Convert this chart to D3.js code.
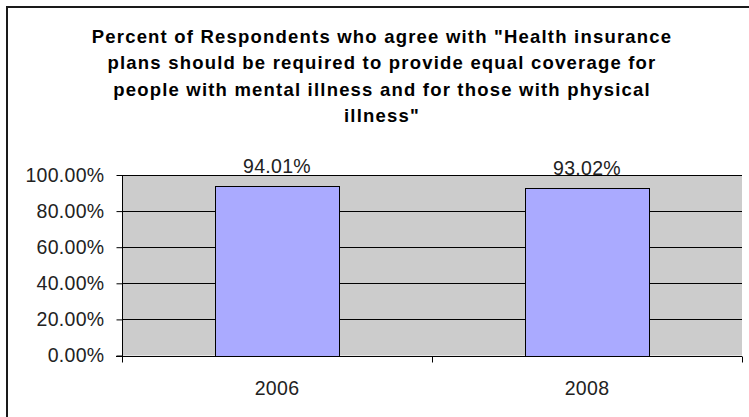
<!DOCTYPE html>
<html>
<head>
<meta charset="utf-8">
<script src="https://cdn.jsdelivr.net/npm/d3@7"></script>
<style>
  body { margin: 0; background: #fff; }
  svg text { font-family: Arial, "Liberation Sans", sans-serif; }
</style>
</head>
<body>
<div id="chart"></div>
<script>
// chart data
const years = ["2006", "2008"];
const agreePct = [0.9401, 0.9302];
const yTicks = [0, 0.2, 0.4, 0.6, 0.8, 1.0];
const titleLines = [
    "Percent of Respondents who agree with \"Health insurance",
    "plans should be required to provide equal coverage for",
    "people with mental illness and for those with physical",
    "illness\""
];

const width = 749, height = 417;
const plot = { left: 122, right: 742, top: 175, bottom: 355.5 };
const labelSize = 19.5;

const svg = d3.select("#chart")
    .append("svg")
    .attr("width", width)
    .attr("height", height);

// outer chart border (runs off the right/bottom edge like the original)
svg.append("rect")
    .attr("x", 7).attr("y", 7)
    .attr("width", 770).attr("height", 440)
    .attr("fill", "none")
    .attr("stroke", "#1a1a1a")
    .attr("stroke-width", 2);

// title
svg.append("text")
    .attr("text-anchor", "middle")
    .attr("font-size", 18.5)
    .attr("font-weight", "bold")
    .attr("letter-spacing", 1.2)
    .attr("fill", "#000")
    .selectAll("tspan")
    .data(titleLines)
    .enter()
    .append("tspan")
    .attr("x", 382)
    .attr("y", (d, i) => 43 + i * 26.3)
    .text(d => d);

const x = d3.scaleBand()
    .domain(years)
    .range([plot.left, plot.right])
    .paddingInner(0.6)
    .paddingOuter(0.3);

const y = d3.scaleLinear()
    .domain([0, 1])
    .range([plot.bottom, plot.top]);

// plot area background
svg.append("rect")
    .attr("x", plot.left).attr("y", plot.top)
    .attr("width", plot.right - plot.left)
    .attr("height", plot.bottom - plot.top)
    .attr("fill", "#cccccc");

// gridlines
svg.selectAll("line.grid")
    .data(yTicks)
    .enter()
    .append("line")
    .attr("class", "grid")
    .attr("x1", plot.left).attr("x2", plot.right)
    .attr("y1", d => Math.round(y(d)) + 0.5)
    .attr("y2", d => Math.round(y(d)) + 0.5)
    .attr("stroke", "#000")
    .attr("stroke-width", 1);

// bars
svg.selectAll("rect.bar")
    .data(agreePct)
    .enter()
    .append("rect")
    .attr("class", "bar")
    .attr("x", (d, i) => Math.round(x(years[i])) + 0.5)
    .attr("y", d => Math.round(y(d)) + 0.5)
    .attr("width", x.bandwidth())
    .attr("height", d => Math.round(y(0)) - Math.round(y(d)))
    .attr("fill", "#aaaaff")
    .attr("stroke", "#000")
    .attr("stroke-width", 1);

// value labels
svg.selectAll("text.val")
    .data(agreePct)
    .enter()
    .append("text")
    .attr("class", "val")
    .attr("x", (d, i) => x(years[i]) + x.bandwidth() / 2)
    .attr("y", d => y(d) - 13)
    .attr("text-anchor", "middle")
    .attr("font-size", labelSize)
    .attr("letter-spacing", 0.3)
    .attr("fill", "#222")
    .text(d => d3.format(".2%")(d));

// y axis
const yAxis = svg.append("g")
    .attr("transform", `translate(${plot.left + 0.5},0)`)
    .call(d3.axisLeft(y)
        .tickValues(yTicks)
        .tickSize(6)
        .tickPadding(12)
        .tickFormat(d3.format(".2%")));
yAxis.select(".domain").attr("stroke", "#000").attr("d", `M-0,${plot.top}V${plot.bottom + 6}`);
yAxis.selectAll(".tick line").attr("stroke", "#000");
yAxis.selectAll(".tick text")
    .attr("font-size", labelSize)
    .attr("letter-spacing", 0.3)
    .attr("fill", "#222")
    .attr("font-family", "Arial, 'Liberation Sans', sans-serif");

// x axis (ticks at category boundaries)
const xAxis = svg.append("g")
    .attr("transform", `translate(0,${Math.round(plot.bottom) + 0.5})`);
xAxis.append("line")
    .attr("x1", plot.left - 6).attr("x2", plot.right)
    .attr("stroke", "#000");
xAxis.selectAll("line.xtick")
    .data([0, 1, 2])
    .enter()
    .append("line")
    .attr("class", "xtick")
    .attr("x1", i => Math.round(plot.left + i * x.step()) + 0.5)
    .attr("x2", i => Math.round(plot.left + i * x.step()) + 0.5)
    .attr("y1", 0).attr("y2", 6)
    .attr("stroke", "#000");
xAxis.selectAll("text")
    .data(years)
    .enter()
    .append("text")
    .attr("x", d => x(d) + x.bandwidth() / 2)
    .attr("y", 38)
    .attr("text-anchor", "middle")
    .attr("font-size", labelSize)
    .attr("letter-spacing", 0.3)
    .attr("fill", "#222")
    .text(d => d);
</script>
</body>
</html>
